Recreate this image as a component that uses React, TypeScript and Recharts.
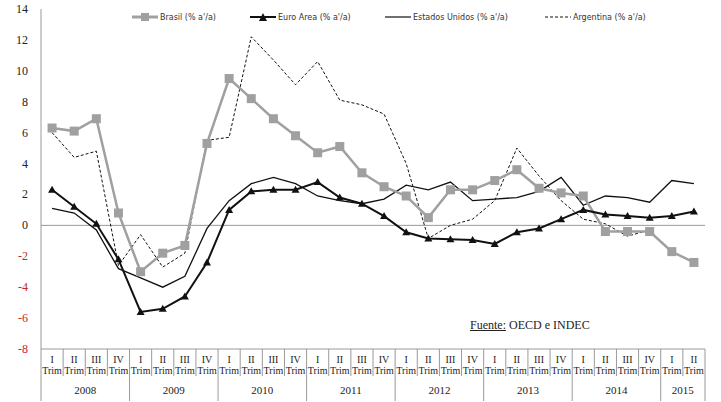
import React from "react";
import {
    LineChart,
    Line,
    XAxis,
    YAxis,
    ReferenceLine,
} from "recharts";

const years = ["2008", "2009", "2010", "2011", "2012", "2013", "2014", "2015"];
const quarterNames = ["I", "II", "III", "IV"];

const brasil = [6.3, 6.1, 6.9, 0.8, -3.0, -1.8, -1.3, 5.3, 9.5, 8.2, 6.9, 5.8, 4.7, 5.1, 3.4, 2.5, 1.9, 0.5, 2.3, 2.3, 2.9, 3.6, 2.4, 2.1, 1.9, -0.4, -0.4, -0.4, -1.7, -2.4];
const euro = [2.3, 1.2, 0.1, -2.2, -5.6, -5.4, -4.6, -2.4, 1.0, 2.2, 2.3, 2.3, 2.8, 1.8, 1.4, 0.6, -0.45, -0.85, -0.9, -0.95, -1.2, -0.45, -0.2, 0.4, 1.0, 0.7, 0.6, 0.5, 0.6, 0.9];
const usa = [1.1, 0.8, -0.3, -2.8, -3.4, -4.0, -3.3, -0.2, 1.6, 2.7, 3.1, 2.7, 1.9, 1.6, 1.4, 1.7, 2.6, 2.3, 2.8, 1.6, 1.7, 1.8, 2.2, 3.1, 1.3, 1.9, 1.8, 1.5, 2.9, 2.7];
const argentina: (number | null)[] = [6.0, 4.4, 4.8, -2.6, -0.6, -2.7, -1.8, 5.5, 5.7, 12.2, 10.7, 9.1, 10.6, 8.1, 7.8, 7.2, 4.0, -0.85, 0.0, 0.4, 1.6, 5.0, 3.2, 1.6, 0.4, 0.1, -0.7, -0.3, null, null];

const yTicks = [-8, -6, -4, -2, 0, 2, 4, 6, 8, 10, 12, 14];

const data = brasil.map((b, i) => ({
    q: i,
    quarter: quarterNames[i % 4],
    year: years[Math.floor(i / 4)],
    brasil: b,
    euro: euro[i],
    usa: usa[i],
    argentina: argentina[i],
}));

const W = 721;
const H = 402;
const LEFT = 41;
const RIGHT = 16;
const CAT = (W - LEFT - RIGHT) / data.length;
const AXIS_COLOR = "#9a9a9a";

const QuarterTick = (props: any) => {
    const { x, y, payload } = props;
    const i = payload.value as number;
    const d = data[i];
    const last = i === data.length - 1;
    const yearEnd = i % 4 === 3 || last;
    const yearStart = i % 4 === 0;
    const yearLen = Math.min(4, data.length - (i - (i % 4)));
    const top = y - 8;
    return (
        <g>
            {i === 0 && (
                <line x1={x - CAT / 2} x2={x - CAT / 2} y1={top} y2={top + 52} stroke={AXIS_COLOR} />
            )}
            <line x1={x + CAT / 2} x2={x + CAT / 2} y1={top} y2={yearEnd ? top + 52 : top + 27} stroke={AXIS_COLOR} />
            <text x={x} y={top + 14} textAnchor="middle" fontSize={10} fill="#222">{d.quarter}</text>
            <text x={x} y={top + 25} textAnchor="middle" fontSize={10} fill="#222">Trim</text>
            {yearStart && (
                <text x={x - CAT / 2 + (yearLen * CAT) / 2} y={top + 45} textAnchor="middle" fontSize={11} fill="#222">
                    {d.year}
                </text>
            )}
        </g>
    );
};

const YTick = (props: any) => {
    const { x, y, payload } = props;
    return (
        <text x={x - 5} y={y + 4} textAnchor="end" fontSize={12} fill={payload.value < 0 ? "#c0282a" : "#222"}>
            {payload.value}
        </text>
    );
};

const legendItems = [
    { label: "Brasil (% a'/a)", color: "#a0a0a0", width: 3, dash: undefined, marker: "square", left: 132 },
    { label: "Euro Area (% a'/a)", color: "#111", width: 2, dash: undefined, marker: "triangle", left: 250 },
    { label: "Estados Unidos (% a'/a)", color: "#111", width: 1.2, dash: undefined, marker: "none", left: 385 },
    { label: "Argentina (% a'/a)", color: "#111", width: 1, dash: "3 2", marker: "none", left: 545 },
];

const LegendBox = () => (
    <div style={{ position: "absolute", left: 0, top: 12, height: 16, width: W, fontFamily: "DejaVu Sans", fontSize: 8, color: "#333" }}>
        {legendItems.map((it) => (
            <div key={it.label} style={{ position: "absolute", left: it.left, top: 0, display: "flex", alignItems: "center" }}>
                <svg width={26} height={10}>
                    <line x1={0} x2={26} y1={5} y2={5} stroke={it.color} strokeWidth={it.width} strokeDasharray={it.dash} />
                    {it.marker === "square" && <rect x={9} y={1} width={8} height={8} fill={it.color} />}
                    {it.marker === "triangle" && <polygon points="13,1 17,9 9,9" fill={it.color} />}
                </svg>
                <span style={{ marginLeft: 2 }}>{it.label}</span>
            </div>
        ))}
    </div>
);

const Square = (props: any) => {
    const { cx, cy } = props;
    if (cx == null || cy == null) return null;
    return <rect x={cx - 4.5} y={cy - 4.5} width={9} height={9} fill="#a0a0a0" />;
};

const Triangle = (props: any) => {
    const { cx, cy } = props;
    if (cx == null || cy == null) return null;
    return <polygon points={`${cx},${cy - 4} ${cx + 4},${cy + 3} ${cx - 4},${cy + 3}`} fill="#111" />;
};

export default function App() {
    return (
        <div style={{ position: "absolute", left: 0, top: 0, width: W, height: H, background: "#fff", fontFamily: "Liberation Serif" }}>
            <LineChart
                width={W}
                height={H}
                data={data}
                margin={{ top: 9, right: RIGHT, left: 0, bottom: 0 }}
            >
                <XAxis
                    dataKey="q"
                    type="category"
                    interval={0}
                    height={53}
                    padding={{ left: CAT / 2, right: CAT / 2 }}
                    tickLine={false}
                    axisLine={{ stroke: AXIS_COLOR }}
                    tick={<QuarterTick />}
                />
                <YAxis
                    width={LEFT}
                    domain={[-8, 14]}
                    ticks={yTicks}
                    interval={0}
                    tickLine={false}
                    axisLine={{ stroke: AXIS_COLOR }}
                    tick={<YTick />}
                />
                <ReferenceLine y={0} stroke={AXIS_COLOR} />
                <Line
                    dataKey="argentina"
                    stroke="#111"
                    strokeWidth={1}
                    strokeDasharray="3 2"
                    dot={false}
                    isAnimationActive={false}
                />
                <Line
                    dataKey="usa"
                    stroke="#111"
                    strokeWidth={1.3}
                    dot={false}
                    isAnimationActive={false}
                />
                <Line
                    dataKey="brasil"
                    stroke="#a0a0a0"
                    strokeWidth={2.5}
                    dot={<Square />}
                    isAnimationActive={false}
                />
                <Line
                    dataKey="euro"
                    stroke="#111"
                    strokeWidth={2}
                    dot={<Triangle />}
                    isAnimationActive={false}
                />
            </LineChart>
            <LegendBox />
            <div style={{ position: "absolute", left: 470, top: 318, fontSize: 12, color: "#222" }}>
                <span style={{ textDecoration: "underline" }}>Fuente:</span> OECD e INDEC
            </div>
        </div>
    );
}
